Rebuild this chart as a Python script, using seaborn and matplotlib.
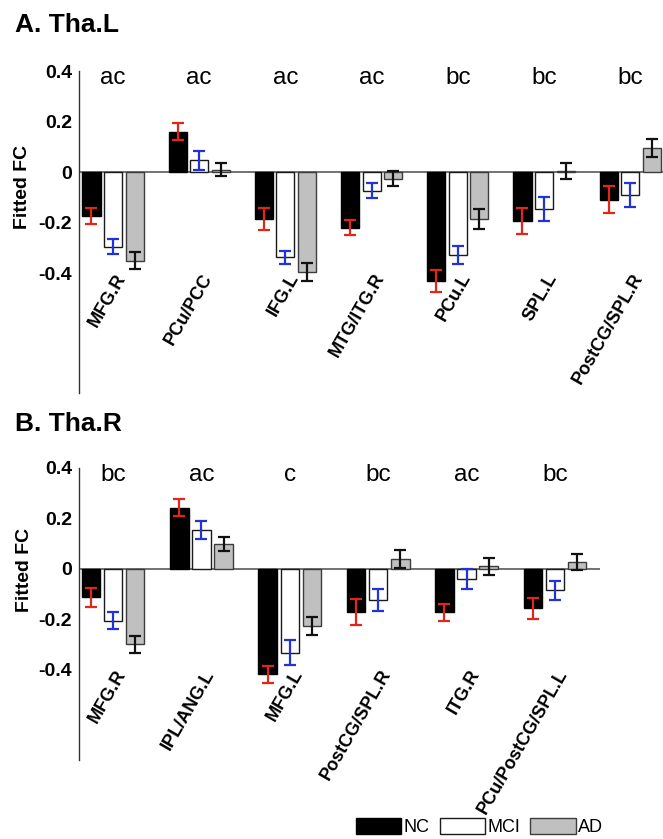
import numpy as np
import pandas as pd
import matplotlib
matplotlib.use("Agg")
import matplotlib.pyplot as plt
from matplotlib.patches import Patch
import seaborn as sns

# ---------------- data ----------------
groups = ["NC", "MCI", "AD"]

regions_A = ["MFG.R", "PCu/PCC", "IFG.L", "MTG/ITG.R", "PCu.L", "SPL.L", "PostCG/SPL.R"]
sig_A = ["ac", "ac", "ac", "ac", "bc", "bc", "bc"]
nc_A = [-0.174, 0.160, -0.186, -0.221, -0.433, -0.194, -0.109]
nc_err_A = [0.033, 0.033, 0.042, 0.030, 0.044, 0.051, 0.053]
mci_A = [-0.295, 0.047, -0.338, -0.074, -0.329, -0.146, -0.091]
mci_err_A = [0.031, 0.038, 0.025, 0.030, 0.037, 0.048, 0.047]
ad_A = [-0.351, 0.009, -0.397, -0.027, -0.187, 0.003, 0.094]
ad_err_A = [0.034, 0.026, 0.036, 0.030, 0.039, 0.032, 0.035]

regions_B = ["MFG.R", "IPL/ANG.L", "MFG.L", "PostCG/SPL.R", "ITG.R", "PCu/PostCG/SPL.L"]
sig_B = ["bc", "ac", "c", "bc", "ac", "bc"]
nc_B = [-0.113, 0.243, -0.420, -0.171, -0.174, -0.158]
nc_err_B = [0.038, 0.035, 0.034, 0.052, 0.033, 0.042]
mci_B = [-0.206, 0.153, -0.333, -0.124, -0.042, -0.086]
mci_err_B = [0.034, 0.035, 0.050, 0.044, 0.039, 0.037]
ad_B = [-0.301, 0.097, -0.227, 0.040, 0.010, 0.026]
ad_err_B = [0.034, 0.027, 0.036, 0.036, 0.034, 0.031]

ytick_vals = [-0.4, -0.2, 0, 0.2, 0.4]
ytick_labels = ["-0.4", "-0.2", "0", "0.2", "0.4"]

# ---------------- style ----------------
sns.set_style("white")
plt.rcParams["font.family"] = ["Liberation Sans", "DejaVu Sans"]
plt.rcParams["text.color"] = "black"
plt.rcParams["axes.labelcolor"] = "black"
plt.rcParams["ytick.color"] = "black"
plt.rcParams["xtick.color"] = "black"

bar_colors = {"NC": "#000000", "MCI": "#ffffff", "AD": "#c0c0c0"}
edge_colors = {"NC": "#000000", "MCI": "#1a1a1a", "AD": "#3c3c3c"}
err_colors = {"NC": "#e2261c", "MCI": "#2233d6", "AD": "#111111"}

W, H = 663, 839
fig = plt.figure(figsize=(W / 100, H / 100), dpi=100)


def px_axes(left, top, right, bottom):
    return fig.add_axes([left / W, 1 - bottom / H, (right - left) / W, (bottom - top) / H])


def draw_panel(ax, regions, sig, vals, errs, xlim, ylim, ylab_xy):
    df = pd.DataFrame({
        "region": [r for r in regions for _ in groups],
        "group": [g for _ in regions for g in groups],
        "fc": [vals[g][i] for i in range(len(regions)) for g in groups],
    })
    ax.axhline(0, color="#5a5a5a", lw=1.2, zorder=0.5)
    sns.barplot(data=df, x="region", y="fc", hue="group", order=regions,
                hue_order=groups, palette=bar_colors, width=0.75, gap=0.16,
                errorbar=None, legend=False, ax=ax, linewidth=1.0, zorder=2)
    for k, g in enumerate(groups):
        cont = ax.containers[k]
        for j, bar in enumerate(cont):
            bar.set_edgecolor(edge_colors[g])
            bar.set_facecolor(bar_colors[g])
            x = bar.get_x() + bar.get_width() / 2
            ax.errorbar(x, vals[g][j], yerr=errs[g][j], color=err_colors[g],
                        elinewidth=1.6, capsize=4.2, capthick=1.6, zorder=3)
    for i, (r, s) in enumerate(zip(regions, sig)):
        ax.text(i, 0.347, s, ha="center", va="baseline", fontsize=17.5, color="black")
        ax.text(i + 0.02, -0.39, r, rotation=60, rotation_mode="anchor",
                ha="right", va="top", fontsize=13, fontweight="bold", color="black")
    ax.set_xlim(*xlim)
    ax.set_ylim(*ylim)
    ax.set_xticks([])
    ax.set_xlabel("")
    ax.set_yticks(ytick_vals)
    ax.set_yticklabels(ytick_labels, fontsize=14, fontweight="bold", color="black")
    ax.tick_params(axis="y", direction="in", length=5, width=1, color="#333333", pad=5)
    for s in ["top", "right", "bottom"]:
        ax.spines[s].set_visible(False)
    ax.spines["left"].set_color("#333333")
    ax.spines["left"].set_linewidth(1.0)
    ax.set_ylabel("Fitted FC", fontsize=14, fontweight="bold", va="center", color="black")
    ax.yaxis.set_label_coords(*ylab_xy)
    ax.patch.set_alpha(0)


axA = px_axes(79, 71, 663, 393)
draw_panel(axA, regions_A, sig_A,
           {"NC": nc_A, "MCI": mci_A, "AD": ad_A},
           {"NC": nc_err_A, "MCI": mci_err_A, "AD": ad_err_A},
           (-0.395, 6.38), (-0.875, 0.4), (-0.096, 0.64))

axB = px_axes(79, 468, 600, 760)
draw_panel(axB, regions_B, sig_B,
           {"NC": nc_B, "MCI": mci_B, "AD": ad_B},
           {"NC": nc_err_B, "MCI": mci_err_B, "AD": ad_err_B},
           (-0.385, 5.51), (-0.76, 0.4), (-0.104, 0.65))

fig.text(15 / W, 1 - 32 / H, "A. Tha.L", fontsize=19, fontweight="bold", va="baseline", ha="left", color="black")
fig.text(15 / W, 1 - 431 / H, "B. Tha.R", fontsize=19, fontweight="bold", va="baseline", ha="left", color="black")

handles = [Patch(facecolor=bar_colors[g], edgecolor=edge_colors[g], linewidth=1.0) for g in groups]
fig.legend(handles, groups, loc="center left", bbox_to_anchor=(356 / W, 1 - 827 / H),
           ncol=3, frameon=False, fontsize=13, handlelength=2.5, handleheight=1.0,
           handletextpad=0.15, columnspacing=0.55, borderpad=0, borderaxespad=0)

fig.savefig("out.png", dpi=100)
